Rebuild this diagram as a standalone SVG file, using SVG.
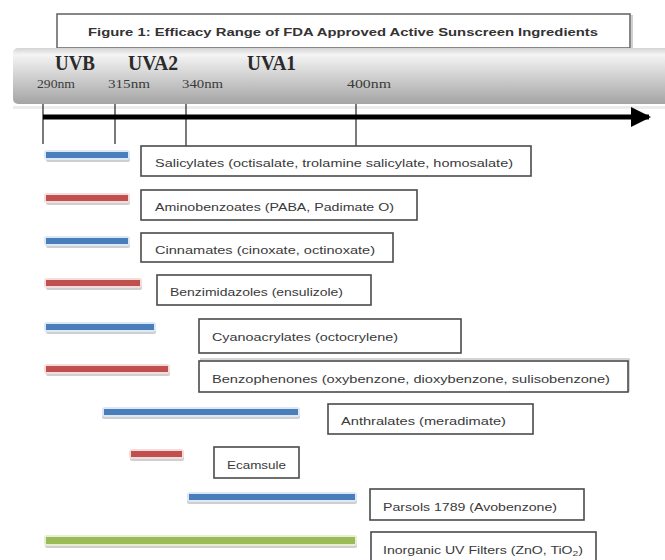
<svg xmlns="http://www.w3.org/2000/svg" width="665" height="560" viewBox="0 0 665 560">
<defs>
<linearGradient id="band" x1="0" y1="0" x2="0" y2="1">
<stop offset="0" stop-color="#d4d4d4"/>
<stop offset="0.12" stop-color="#f4f4f4"/>
<stop offset="0.45" stop-color="#d6d6d6"/>
<stop offset="1" stop-color="#a4a4a4"/>
</linearGradient>
<marker id="ah" viewBox="0 0 10 10" refX="9" refY="5" markerWidth="4" markerHeight="4.4" orient="auto" markerUnits="strokeWidth">
<path d="M0,0 L10,5 L0,10 z" fill="#000"/>
</marker>
</defs>
<style>
.box{fill:#fff;stroke:#4a4a4a;stroke-width:1.6}
.bs{fill:none;stroke:#c8c8c8;stroke-width:1.5}
.lbl{font-family:"Liberation Sans",Arial,sans-serif;font-size:11px;fill:#3a3a3a}
.uv{font-family:"Liberation Serif","Times New Roman",serif;font-weight:bold;font-size:20px;fill:#2a2a2a}
.nm{font-family:"Liberation Serif","Times New Roman",serif;font-size:13px;fill:#3a3a3a}
.tick{stroke:#333;stroke-width:1.3}
.sh{fill:#cfcfcf}
.halo-b{fill:#dce8f6}
.halo-r{fill:#f4dcdc}
.halo-g{fill:#e6efd6}
.blue{fill:#4a7ebb}
.red{fill:#c0504d}
.green{fill:#9bbb59}
</style>
<rect width="665" height="560" fill="#fff"/>

<g id="title">
<rect x="59" y="16" width="573" height="33" fill="none" stroke="#d0d0d0" stroke-width="2"/>
<rect x="57" y="14" width="573" height="34" fill="#fff" stroke="#6a6a6a" stroke-width="1.6"/>
<text x="343" y="36" text-anchor="middle" font-family="'Liberation Sans',Arial,sans-serif" font-weight="bold" font-size="11.5" fill="#333" textLength="510" lengthAdjust="spacingAndGlyphs">Figure 1: Efficacy Range of FDA Approved Active Sunscreen Ingredients</text>
</g>

<g id="scale">
<rect x="13" y="106" width="652" height="3" fill="#ececec"/>
<rect x="13" y="48" width="660" height="56" rx="5" fill="url(#band)"/>
<text class="uv" x="55" y="70" textLength="40" lengthAdjust="spacingAndGlyphs">UVB</text>
<text class="uv" x="128" y="70" textLength="50" lengthAdjust="spacingAndGlyphs">UVA2</text>
<text class="uv" x="247" y="70" textLength="49" lengthAdjust="spacingAndGlyphs">UVA1</text>
<text class="nm" x="37" y="88" textLength="38" lengthAdjust="spacingAndGlyphs">290nm</text>
<text class="nm" x="108" y="88" textLength="42" lengthAdjust="spacingAndGlyphs">315nm</text>
<text class="nm" x="182" y="88" textLength="41" lengthAdjust="spacingAndGlyphs">340nm</text>
<text class="nm" x="347" y="88" textLength="44" lengthAdjust="spacingAndGlyphs">400nm</text>
</g>

<g id="connectors">
<line class="tick" x1="43" y1="104" x2="43" y2="144"/>
<line class="tick" x1="115" y1="104" x2="115" y2="144"/>
<line class="tick" x1="186" y1="104" x2="186" y2="147"/>
<line class="tick" x1="356" y1="104" x2="356" y2="147"/>
<line x1="43" y1="117" x2="649" y2="117" stroke="#000" stroke-width="5" marker-end="url(#ah)"/>
</g>

<g id="salicylates">
<rect class="sh" x="46" y="156" width="84" height="6" rx="2"/>
<rect class="halo-b" x="44" y="150" width="86" height="10" rx="3"/>
<rect class="blue" x="46" y="152" width="82" height="6"/>
<rect class="box" x="141" y="146" width="390" height="30"/>
<text class="lbl" x="155" y="167" textLength="358" lengthAdjust="spacingAndGlyphs">Salicylates (octisalate, trolamine salicylate, homosalate)</text>
</g>

<g id="aminobenzoates">
<rect class="sh" x="46" y="199" width="84" height="6" rx="2"/>
<rect class="halo-r" x="44" y="193" width="86" height="10" rx="3"/>
<rect class="red" x="46" y="195" width="82" height="6"/>
<rect class="box" x="141" y="190" width="276" height="30"/>
<text class="lbl" x="155" y="211" textLength="239" lengthAdjust="spacingAndGlyphs">Aminobenzoates (PABA, Padimate O)</text>
</g>

<g id="cinnamates">
<rect class="sh" x="46" y="242" width="84" height="6" rx="2"/>
<rect class="halo-b" x="44" y="236" width="86" height="10" rx="3"/>
<rect class="blue" x="46" y="238" width="82" height="6"/>
<rect class="box" x="141" y="233" width="252" height="29"/>
<text class="lbl" x="155" y="254" textLength="220" lengthAdjust="spacingAndGlyphs">Cinnamates (cinoxate, octinoxate)</text>
</g>

<g id="benzimidazoles">
<rect class="sh" x="46" y="284" width="96" height="6" rx="2"/>
<rect class="halo-r" x="44" y="278" width="98" height="10" rx="3"/>
<rect class="red" x="46" y="280" width="94" height="6"/>
<rect class="box" x="157" y="275" width="214" height="30"/>
<text class="lbl" x="170" y="296" textLength="173" lengthAdjust="spacingAndGlyphs">Benzimidazoles (ensulizole)</text>
</g>

<g id="cyanoacrylates">
<rect class="sh" x="46" y="328" width="110" height="6" rx="2"/>
<rect class="halo-b" x="44" y="322" width="112" height="10" rx="3"/>
<rect class="blue" x="46" y="324" width="108" height="6"/>
<rect class="box" x="199" y="319" width="262" height="34"/>
<text class="lbl" x="212" y="341" textLength="186" lengthAdjust="spacingAndGlyphs">Cyanoacrylates (octocrylene)</text>
</g>

<g id="benzophenones">
<rect class="sh" x="46" y="370" width="124" height="6" rx="2"/>
<rect class="halo-r" x="44" y="364" width="126" height="10" rx="3"/>
<rect class="red" x="46" y="366" width="122" height="6"/>
<rect class="bs" x="201" y="359" width="428" height="32"/>
<rect class="box" x="199" y="361" width="429" height="31"/>
<text class="lbl" x="212" y="383" textLength="398" lengthAdjust="spacingAndGlyphs">Benzophenones  (oxybenzone, dioxybenzone, sulisobenzone)</text>
</g>

<g id="anthralates">
<rect class="sh" x="102" y="413" width="198" height="6" rx="2"/>
<rect class="halo-b" x="102" y="407" width="198" height="10" rx="3"/>
<rect class="blue" x="104" y="409" width="194" height="6"/>
<rect class="box" x="328" y="404" width="205" height="30"/>
<text class="lbl" x="341" y="425" textLength="165" lengthAdjust="spacingAndGlyphs">Anthralates (meradimate)</text>
</g>

<g id="ecamsule">
<rect class="sh" x="130" y="455" width="54" height="6" rx="2"/>
<rect class="halo-r" x="129" y="449" width="55" height="10" rx="3"/>
<rect class="red" x="131" y="451" width="51" height="6"/>
<rect class="box" x="214" y="447" width="85" height="31"/>
<text class="lbl" x="227" y="469" textLength="59" lengthAdjust="spacingAndGlyphs">Ecamsule</text>
</g>

<g id="parsols">
<rect class="sh" x="187" y="498" width="170" height="6" rx="2"/>
<rect class="halo-b" x="187" y="492" width="170" height="10" rx="3"/>
<rect class="blue" x="189" y="494" width="166" height="6"/>
<rect class="box" x="370" y="489" width="214" height="31"/>
<text class="lbl" x="383" y="511" textLength="174" lengthAdjust="spacingAndGlyphs">Parsols 1789 (Avobenzone)</text>
</g>

<g id="inorganic">
<rect class="sh" x="45" y="542" width="312" height="6" rx="2"/>
<rect class="halo-g" x="44" y="535" width="313" height="11" rx="3"/>
<rect class="green" x="46" y="537" width="309" height="7"/>
<rect class="box" x="371" y="532" width="225" height="34"/>
<text class="lbl" x="383" y="554" textLength="200" lengthAdjust="spacingAndGlyphs">Inorganic UV Filters (ZnO, TiO<tspan font-size="8" dy="2">2</tspan><tspan dy="-2">)</tspan></text>
</g>
</svg>
